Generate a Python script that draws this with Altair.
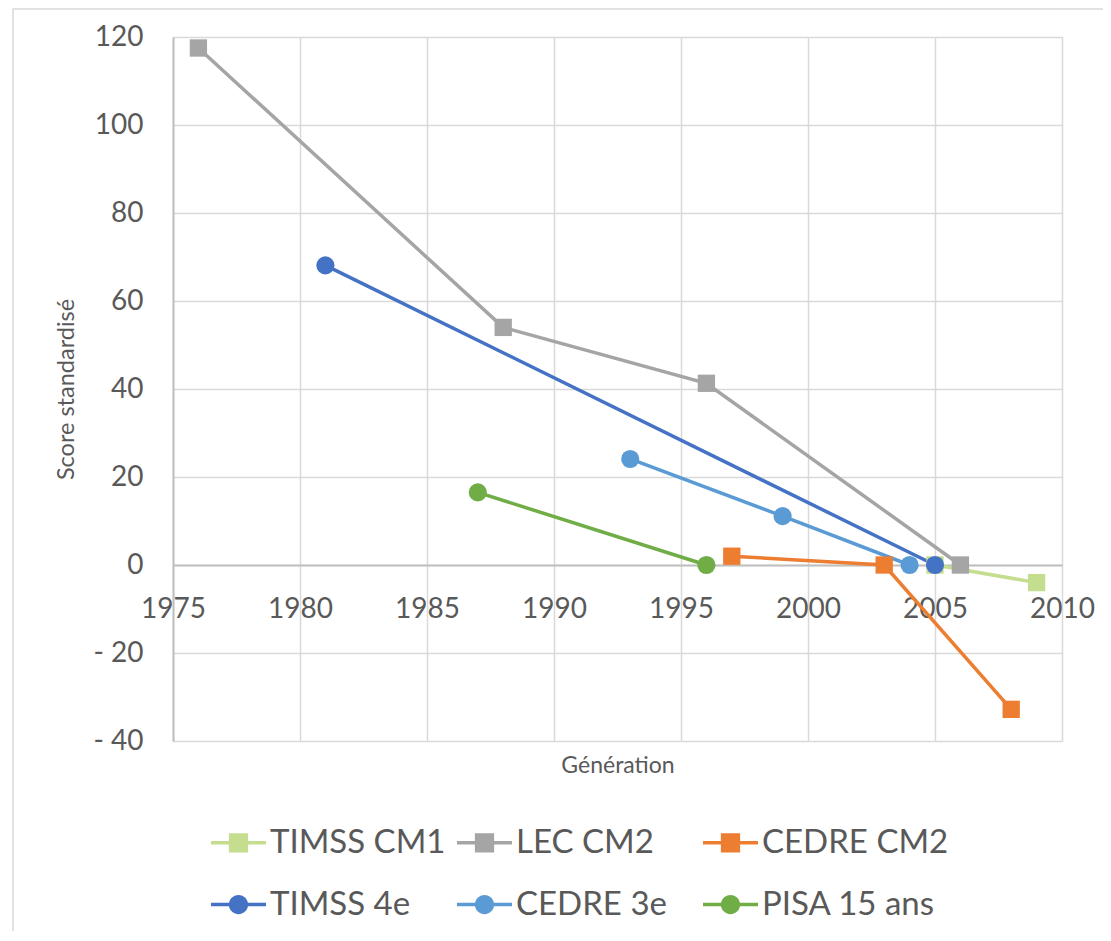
import altair as alt
import pandas as pd

# ---- data ----
series = ["TIMSS CM1", "LEC CM2", "CEDRE CM2", "TIMSS 4e", "CEDRE 3e", "PISA 15 ans"]
colors = ["#C4DD8E", "#A5A5A5", "#ED7D31", "#4472C4", "#5B9BD5", "#70AD47"]
markers = ["square", "square", "square", "circle", "circle", "circle"]

timss_cm1_years = [2005, 2009]
timss_cm1_vals = [0, -4]
lec_cm2_years = [1976, 1988, 1996, 2006]
lec_cm2_vals = [117.5, 54, 41.3, 0]
cedre_cm2_years = [1997, 2003, 2008]
cedre_cm2_vals = [2, 0, -32.8]
timss_4e_years = [1981, 2005]
timss_4e_vals = [68.1, 0]
cedre_3e_years = [1993, 1999, 2004]
cedre_3e_vals = [24.1, 11.1, 0]
pisa_years = [1987, 1996]
pisa_vals = [16.5, 0]

x_ticks = [1975, 1980, 1985, 1990, 1995, 2000, 2005, 2010]
y_ticks = [-40, -20, 0, 20, 40, 60, 80, 100, 120]

all_years = [timss_cm1_years, lec_cm2_years, cedre_cm2_years, timss_4e_years, cedre_3e_years, pisa_years]
all_vals = [timss_cm1_vals, lec_cm2_vals, cedre_cm2_vals, timss_4e_vals, cedre_3e_vals, pisa_vals]

rows = []
for name, mk, ys, vs in zip(series, markers, all_years, all_vals):
    for yr, v in zip(ys, vs):
        rows.append({"series": name, "marker": mk, "year": yr, "value": v})
df = pd.DataFrame(rows)

FONT = "Lato"
TXT = "#595959"

sq_path = "M-1,-0.065H1V0.065H-1Z M-0.35,-0.35H0.35V0.35H-0.35Z"
ci_path = "M-1,-0.065H1V0.065H-1Z M0.35,0A0.35,0.35 0 1,1 -0.35,0A0.35,0.35 0 1,1 0.35,0Z"
legend_shapes = [sq_path if m == "square" else ci_path for m in markers]

color_scale = alt.Scale(domain=series, range=colors)

x_enc = alt.X(
    "year:Q",
    scale=alt.Scale(domain=[1975, 2010], nice=False, zero=False),
    axis=alt.Axis(
        values=x_ticks, format="d", offset=-176, tickSize=0, labelPadding=30,
        labelFontSize=28, labelFont=FONT, labelColor=TXT, labelFlush=False,
        labelOverlap=False, domainColor="#BFBFBF", domainWidth=2,
        grid=True, gridColor="#D9D9D9", gridWidth=1.5,
        title="Génération", titleFont=FONT, titleFontSize=23, titleFontWeight="normal",
        titleColor=TXT, titleX=444.5, titleY=207, titleBaseline="alphabetic",
        titleAlign="center", titleAngle=0,
    ),
)
y_enc = alt.Y(
    "value:Q",
    scale=alt.Scale(domain=[-40, 120], nice=False, zero=False),
    axis=alt.Axis(
        values=y_ticks, tickSize=0, labelPadding=30,
        labelExpr="datum.value < 0 ? '- ' + abs(datum.value) : datum.label",
        labelFontSize=28, labelFont=FONT, labelColor=TXT, labelOverlap=False,
        domainColor="#BFBFBF", domainWidth=2,
        grid=True, gridColor="#D9D9D9", gridWidth=1.5,
        title="Score standardisé", titleFont=FONT, titleFontSize=23.5,
        titleFontWeight="normal", titleColor=TXT, titleAngle=-90,
        titleX=-100, titleY=352, titleBaseline="alphabetic", titleAlign="center",
    ),
)

legend_props = dict(
    title=None, orient="none", legendX=38, legendY=778, columns=3,
    gridAlign="all", columnPadding=0, rowPadding=17, padding=0,
    symbolSize=3025, symbolStrokeWidth=0, symbolOpacity=1,
    labelFont=FONT, labelFontSize=33, labelColor=TXT, labelOffset=4,
    labelLimit=0, direction="horizontal",
)

frame = alt.Chart(alt.Data(values=[{"a": 1}])).mark_rect(
    fill=None, stroke="#D9D9D9", strokeWidth=1.5
).encode(
    x=alt.value(-160), x2=alt.value(1200), y=alt.value(-28), y2=alt.value(1000)
)

legend_layer = alt.Chart(df).mark_point(filled=True, opacity=1, strokeWidth=0).encode(
    x=x_enc, y=y_enc,
    color=alt.Color("series:N", scale=color_scale, legend=alt.Legend(**legend_props)),
    shape=alt.Shape("series:N", scale=alt.Scale(domain=series, range=legend_shapes),
                    legend=alt.Legend(**legend_props)),
).transform_filter("false")

lines = alt.Chart(df).mark_line(strokeWidth=3.5).encode(
    x="year:Q", y="value:Q",
    color=alt.Color("series:N", scale=color_scale),
    detail="series:N",
)

squares = alt.Chart(df).mark_point(shape="square", filled=True, size=300, opacity=1).encode(
    x="year:Q", y="value:Q",
    color=alt.Color("series:N", scale=color_scale),
).transform_filter(alt.datum.marker == "square")

circles = alt.Chart(df).mark_point(shape="circle", filled=True, size=330, opacity=1).encode(
    x="year:Q", y="value:Q",
    color=alt.Color("series:N", scale=color_scale),
).transform_filter(alt.datum.marker == "circle")

chart = alt.layer(frame, legend_layer, lines, squares, circles).properties(
    width=889, height=704,
    autosize=alt.AutoSizeParams(type="none"),
    padding={"left": 165, "top": 29, "right": 41, "bottom": 190},
).configure_view(stroke=None).configure(background="white")

chart.save("out.html", embed_options={"renderer": "svg", "actions": False})
